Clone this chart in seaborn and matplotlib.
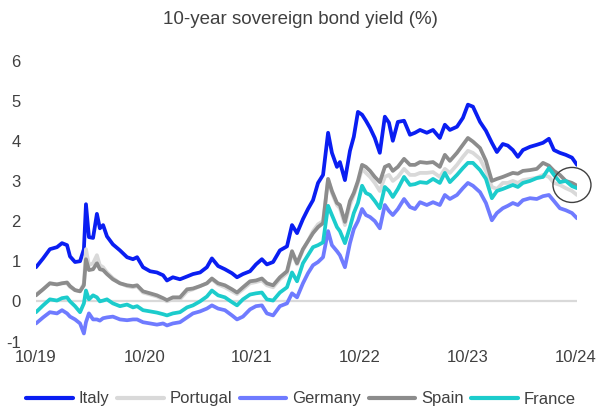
import matplotlib
matplotlib.use("Agg")
import matplotlib.pyplot as plt
import matplotlib.dates as mdates
from matplotlib.patches import Ellipse
import pandas as pd
import seaborn as sns

# ---------------- data ----------------
dates = [
    "2019-10-01", "2019-10-25", "2019-11-17", "2019-12-11", "2019-12-28", "2020-01-14", "2020-01-24",
    "2020-02-10", "2020-02-27", "2020-03-11", "2020-03-18", "2020-03-28", "2020-04-11", "2020-04-24",
    "2020-05-04", "2020-05-15", "2020-05-28", "2020-06-17", "2020-07-11", "2020-08-04", "2020-08-24",
    "2020-09-07", "2020-09-27", "2020-10-21", "2020-11-13", "2020-12-04", "2020-12-17", "2021-01-06",
    "2021-01-30", "2021-02-23", "2021-03-15", "2021-04-08", "2021-05-01", "2021-05-18", "2021-06-08",
    "2021-07-01", "2021-07-25", "2021-08-11", "2021-08-31", "2021-09-24", "2021-10-14", "2021-11-03",
    "2021-11-20", "2021-12-11", "2022-01-03", "2022-01-27", "2022-02-13", "2022-03-02", "2022-03-22",
    "2022-04-08", "2022-04-25", "2022-05-12", "2022-05-29", "2022-06-15", "2022-06-28", "2022-07-15",
    "2022-07-25", "2022-08-11", "2022-08-28", "2022-09-10", "2022-09-24", "2022-10-08", "2022-10-21",
    "2022-11-04", "2022-11-20", "2022-12-07", "2022-12-24", "2023-01-07", "2023-01-20", "2023-02-06",
    "2023-02-27", "2023-03-19", "2023-04-05", "2023-04-22", "2023-05-15", "2023-06-05", "2023-06-28",
    "2023-07-15", "2023-08-01", "2023-08-25", "2023-09-14", "2023-10-01", "2023-10-18", "2023-11-11",
    "2023-12-01", "2023-12-21", "2024-01-07", "2024-01-27", "2024-02-13", "2024-03-01", "2024-03-18",
    "2024-04-04", "2024-04-28", "2024-05-21", "2024-06-11", "2024-07-01", "2024-07-18", "2024-08-07",
    "2024-08-27", "2024-09-17", "2024-10-04",
]

italy = [
    0.85, 1.07, 1.30, 1.35, 1.45, 1.40, 1.12, 0.98, 1.00, 1.30, 2.42, 1.60, 1.58, 2.18,
    1.82, 1.90, 1.62, 1.42, 1.27, 1.10, 1.05, 1.10, 0.85, 0.75, 0.72, 0.65, 0.52, 0.60,
    0.55, 0.62, 0.68, 0.72, 0.85, 1.07, 0.88, 0.80, 0.70, 0.60, 0.68, 0.75, 0.92, 1.05,
    0.92, 0.98, 1.27, 1.37, 1.90, 1.70, 2.05, 2.30, 2.52, 2.95, 3.15, 4.20, 3.70, 3.35,
    3.47, 3.02, 3.75, 4.10, 4.72, 4.65, 4.50, 4.32, 4.07, 3.70, 4.60, 4.45, 4.00, 4.47,
    4.50, 4.15, 4.20, 4.27, 4.20, 4.27, 4.07, 4.40, 4.27, 4.35, 4.57, 4.90, 4.85, 4.47,
    4.25, 3.95, 3.72, 3.92, 3.88, 3.77, 3.60, 3.77, 3.85, 3.90, 3.95, 4.05, 3.77, 3.70,
    3.65, 3.58, 3.40,
]

portugal = [
    0.17, 0.30, 0.45, 0.43, 0.45, 0.45, 0.36, 0.28, 0.25, 0.45, 1.30, 0.90, 0.95, 1.15,
    0.90, 0.85, 0.72, 0.58, 0.45, 0.38, 0.35, 0.38, 0.22, 0.17, 0.12, 0.05, 0.00, 0.05,
    0.05, 0.25, 0.30, 0.38, 0.45, 0.55, 0.42, 0.35, 0.25, 0.18, 0.30, 0.45, 0.48, 0.52,
    0.40, 0.35, 0.55, 0.70, 1.20, 0.92, 1.28, 1.50, 1.75, 1.92, 2.00, 3.05, 2.70, 2.40,
    2.32, 1.90, 2.40, 2.65, 2.95, 3.30, 3.20, 3.10, 2.95, 2.75, 3.10, 3.15, 3.00, 3.10,
    3.30, 3.15, 3.15, 3.20, 3.20, 3.22, 3.10, 3.30, 3.20, 3.40, 3.60, 3.75, 3.70, 3.55,
    3.25, 2.85, 2.80, 2.95, 2.95, 3.00, 2.95, 3.02, 3.05, 3.08, 3.15, 3.10, 2.95, 2.90,
    2.82, 2.75, 2.65,
]

germany = [
    -0.55, -0.40, -0.27, -0.30, -0.22, -0.30, -0.38, -0.45, -0.55, -0.80, -0.52, -0.30, -0.45, -0.45,
    -0.48, -0.42, -0.40, -0.38, -0.45, -0.47, -0.45, -0.45, -0.52, -0.55, -0.58, -0.55, -0.60, -0.55,
    -0.52, -0.40, -0.30, -0.25, -0.18, -0.10, -0.18, -0.22, -0.35, -0.45, -0.38, -0.20, -0.12, -0.10,
    -0.30, -0.35, -0.12, -0.05, 0.20, 0.10, 0.45, 0.70, 0.90, 0.98, 1.10, 1.75, 1.40, 1.25,
    1.15, 0.85, 1.45, 1.80, 2.00, 2.30, 2.15, 2.10, 2.00, 1.82, 2.40, 2.25, 2.15, 2.30,
    2.55, 2.35, 2.30, 2.47, 2.40, 2.47, 2.40, 2.65, 2.55, 2.65, 2.82, 2.95, 2.88, 2.72,
    2.45, 2.02, 2.20, 2.32, 2.38, 2.45, 2.40, 2.52, 2.57, 2.55, 2.62, 2.65, 2.50, 2.32,
    2.27, 2.20, 2.07,
]

spain = [
    0.15, 0.30, 0.45, 0.42, 0.45, 0.47, 0.38, 0.28, 0.25, 0.40, 1.05, 0.78, 0.80, 0.95,
    0.80, 0.78, 0.68, 0.55, 0.45, 0.40, 0.38, 0.40, 0.25, 0.20, 0.15, 0.08, 0.03, 0.10,
    0.10, 0.30, 0.32, 0.38, 0.45, 0.57, 0.45, 0.40, 0.30, 0.22, 0.35, 0.50, 0.52, 0.57,
    0.45, 0.40, 0.60, 0.75, 1.25, 0.95, 1.30, 1.50, 1.70, 1.85, 1.95, 3.05, 2.75, 2.45,
    2.40, 1.98, 2.50, 2.70, 3.00, 3.40, 3.35, 3.25, 3.10, 2.97, 3.35, 3.40, 3.25, 3.35,
    3.55, 3.40, 3.40, 3.47, 3.45, 3.47, 3.35, 3.65, 3.50, 3.70, 3.90, 4.07, 3.98, 3.82,
    3.50, 3.00, 3.05, 3.10, 3.15, 3.20, 3.18, 3.25, 3.27, 3.30, 3.45, 3.38, 3.25, 3.15,
    3.00, 2.95, 2.88,
]

france = [
    -0.27, -0.10, 0.05, 0.02, 0.08, 0.10, 0.00, -0.12, -0.27, -0.05, 0.27, 0.05, 0.15, 0.10,
    0.00, 0.02, 0.05, -0.05, -0.12, -0.08, -0.15, -0.12, -0.22, -0.25, -0.28, -0.32, -0.35, -0.30,
    -0.27, -0.15, -0.10, 0.00, 0.12, 0.27, 0.15, 0.10, -0.02, -0.10, 0.05, 0.17, 0.20, 0.22,
    0.05, 0.02, 0.22, 0.35, 0.72, 0.50, 0.95, 1.15, 1.35, 1.40, 1.47, 2.38, 2.15, 1.85,
    1.75, 1.45, 1.85, 2.20, 2.45, 2.88, 2.70, 2.65, 2.50, 2.32, 2.85, 2.75, 2.60, 2.80,
    3.10, 2.90, 2.92, 2.97, 2.95, 3.05, 2.95, 3.20, 2.97, 3.15, 3.32, 3.45, 3.45, 3.27,
    3.05, 2.57, 2.75, 2.80, 2.85, 2.90, 2.85, 2.95, 3.00, 3.07, 3.10, 3.32, 3.15, 2.97,
    3.00, 2.87, 2.82,
]

countries = ["Italy", "Portugal", "Germany", "Spain", "France"]
colors = ["#0A1EF2", "#D9D9D9", "#6F7BFF", "#8C8C8C", "#1CCCCC"]

tick_dates = ["2019-10-01", "2020-10-01", "2021-10-01", "2022-10-01", "2023-10-01", "2024-10-01"]
tick_labels = ["10/19", "10/20", "10/21", "10/22", "10/23", "10/24"]
y_ticks = [-1, 0, 1, 2, 3, 4, 5, 6]

title = "10-year sovereign bond yield (%)"

# highlight circle around the latest readings
circle_center_date = "2024-09-17"
circle_center_y = 2.9
# ------------------------------------------------------------------------

series = dict(zip(countries, [italy, portugal, germany, spain, france]))
frames = []
for name in countries:
    frames.append(pd.DataFrame({"date": pd.to_datetime(dates), "yield": series[name], "country": name}))
df = pd.concat(frames, ignore_index=True)

sns.set_style("white")
plt.rcParams["font.family"] = ["Liberation Sans", "DejaVu Sans"]
text_color = "#404040"

W, H = 598, 409
fig = plt.figure(figsize=(W / 100, H / 100), dpi=100)
ax_left, ax_right, ax_top, ax_bottom = 36, 577, 60.5, 341.5
ax = fig.add_axes([ax_left / W, 1 - ax_bottom / H, (ax_right - ax_left) / W, (ax_bottom - ax_top) / H])

ax.axhline(0, color="#D9D9D9", lw=1.6, zorder=0)

sns.lineplot(data=df, x="date", y="yield", hue="country", hue_order=countries,
             palette=dict(zip(countries, colors)), linewidth=2.7, ax=ax, legend=False)

ax.set_xlim(pd.Timestamp(dates[0]), pd.Timestamp(dates[-1]))
ax.set_ylim(-1, 6)
ax.set_xticks(pd.to_datetime(tick_dates))
ax.set_xticklabels(tick_labels)
ax.set_yticks(y_ticks)
ax.set_yticklabels([str(v) for v in y_ticks])
ax.tick_params(axis="both", length=0, labelsize=12, labelcolor=text_color)
ax.tick_params(axis="y", pad=11)
ax.tick_params(axis="x", pad=6)
ax.set_xlabel("")
ax.set_ylabel("")
for s in ax.spines.values():
    s.set_visible(False)

# circle annotation (size in pixels converted to data units)
days_per_px = (pd.Timestamp(dates[-1]) - pd.Timestamp(dates[0])).days / (ax_right - ax_left)
units_per_px = 7 / (ax_bottom - ax_top)
ell = Ellipse((mdates.date2num(pd.Timestamp(circle_center_date)), circle_center_y),
              width=38 * days_per_px, height=35 * units_per_px,
              fill=False, edgecolor="#404040", lw=1.0, clip_on=False, zorder=5)
ax.add_patch(ell)

fig.text(300 / W, 1 - 19 / H, title, ha="center", va="center", fontsize=13.5, color=text_color)

handles = [plt.Line2D([], [], color=c, lw=3) for c in colors]
fig.legend(handles, countries, loc="center", bbox_to_anchor=(301 / W, 1 - 399 / H), ncol=5,
           frameon=False, fontsize=12, handlelength=2.8, handletextpad=0.35, columnspacing=0.45,
           labelcolor=text_color, borderaxespad=0, borderpad=0)

fig.savefig("out.png", dpi=100)
